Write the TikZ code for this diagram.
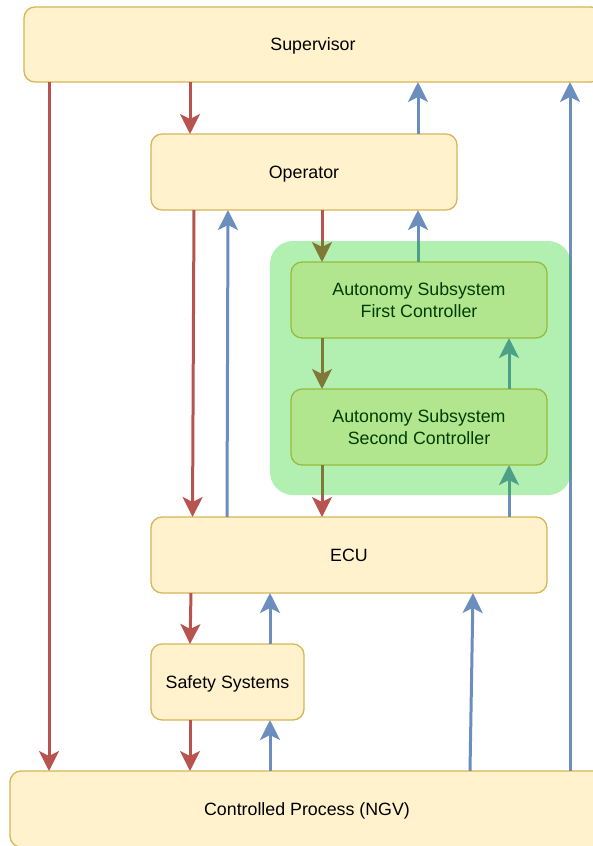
\documentclass[tikz,border=0pt]{standalone}
\usepackage{fontspec}
\setmainfont{Liberation Sans}
\usetikzlibrary{arrows.meta}

\definecolor{boxfill}{HTML}{FFF2CC}
\definecolor{boxline}{HTML}{D6B656}
\definecolor{cmdred}{HTML}{B85450}
\definecolor{fbblue}{HTML}{6C8EBF}
\definecolor{autogreen}{RGB}{0,204,0}

\tikzset{
  block/.style={draw=boxline, fill=boxfill, line width=1.3pt,
    rounded corners=11pt, inner sep=0pt, outer sep=0pt,
    minimum height=76pt, align=center,
    font=\fontsize{17.8}{22}\selectfont},
  oneline/.style={text height=12.7pt, text depth=0pt},
  flow/.style={line width=3pt,
    -{Stealth[length=20pt, width=20pt, inset=5pt]}},
  control/.style={flow, draw=cmdred, fill=cmdred},
  feedback/.style={flow, draw=fbblue, fill=fbblue},
  autozone/.style={fill=autogreen, opacity=0.3, rounded corners=23pt}
}

\begin{document}
\begin{tikzpicture}[x=1pt, y=-1pt]
  \useasboundingbox (0,0) rectangle (593,846);
  \clip (0,0) rectangle (593,846);

  % controllers and process
  \node[block, oneline, minimum width=578pt, minimum height=75pt] (sup) at (313,44.5) {Supervisor};
  \node[block, oneline, minimum width=306pt] (op)   at (304,172) {Operator};
  \node[block, minimum width=256pt] (asfc) at (419,300) {Autonomy Subsystem\\First Controller};
  \node[block, minimum width=256pt] (assc) at (419,427) {Autonomy Subsystem\\Second Controller};
  \node[block, oneline, minimum width=396pt] (ecu)  at (349,555) {ECU};
  \node[block, oneline, minimum width=153pt] (safe) at (227.5,682) {Safety Systems};
  \node[block, oneline, minimum width=594pt] (ctrl) at (307,809) {Controlled Process (NGV)};

  % control actions
  \draw[control] (sup.south -| 49,0)  -- (ctrl.north -| 49,0);
  \draw[control] (sup.south -| 190,0) -- (op.north -| 190,0);
  \draw[control] (op.south -| 194,0)  -- (ecu.north -| 192.5,0);
  \draw[control] (op.south -| 322,0)  -- (asfc.north -| 322,0);
  \draw[control] (asfc.south -| 322,0) -- (assc.north -| 322,0);
  \draw[control] (assc.south -| 322,0) -- (ecu.north -| 322,0);
  \draw[control] (ecu.south -| 191,0) -- (safe.north -| 190,0);
  \draw[control] (safe.south -| 190,0) -- (ctrl.north -| 190,0);

  % feedback
  \draw[feedback] (ctrl.north -| 270,0) -- (safe.south -| 270,0);
  \draw[feedback] (safe.north -| 270,0) -- (ecu.south -| 270,0);
  \draw[feedback] (ctrl.north -| 470,0) -- (ecu.south -| 473,0);
  \draw[feedback] (ctrl.north -| 570,0) -- (sup.south -| 570,0);
  \draw[feedback] (ecu.north -| 227,0)  -- (op.south -| 228,0);
  \draw[feedback] (ecu.north -| 509,0)  -- (assc.south -| 509,0);
  \draw[feedback] (assc.north -| 509,0) -- (asfc.south -| 509,0);
  \draw[feedback] (asfc.north -| 418,0) -- (op.south -| 418,0);
  \draw[feedback] (op.north -| 418,0)   -- (sup.south -| 418,0);

  % translucent autonomy subsystem zone
  \fill[autozone] (270,241) rectangle (571,495);
\end{tikzpicture}
\end{document}
